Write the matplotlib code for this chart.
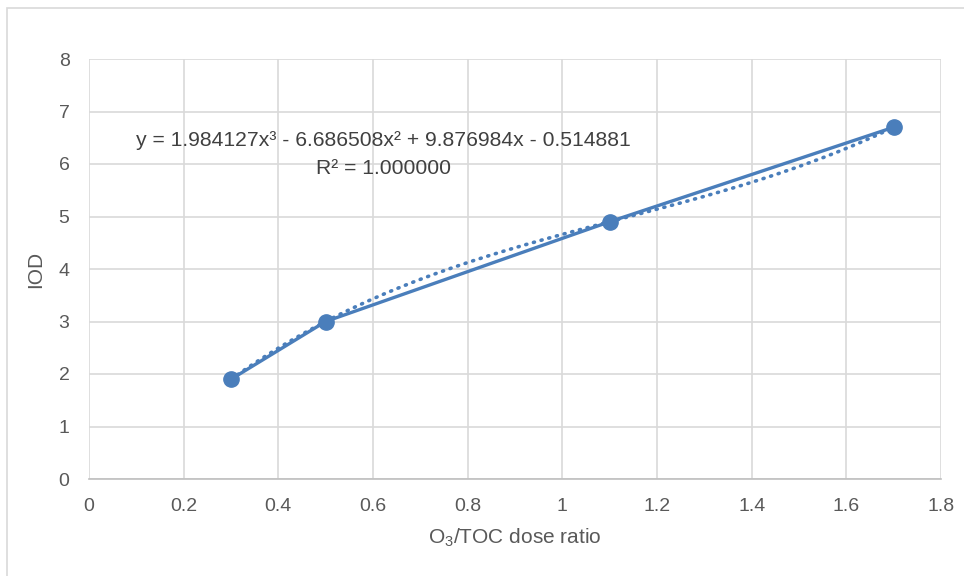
import numpy as np
import matplotlib
matplotlib.use("Agg")
import matplotlib.pyplot as plt
from matplotlib.patches import Rectangle

# Data
dose_ratio = [0.3, 0.5, 1.1, 1.7]
iod = [1.9, 3.0, 4.9, 6.7]
x_ticks = [0, 0.2, 0.4, 0.6, 0.8, 1, 1.2, 1.4, 1.6, 1.8]
x_tick_labels = ["0", "0.2", "0.4", "0.6", "0.8", "1", "1.2", "1.4", "1.6", "1.8"]
y_ticks = [0, 1, 2, 3, 4, 5, 6, 7, 8]
eq_line1 = "y = 1.984127x³ - 6.686508x² + 9.876984x - 0.514881"
eq_line2 = "R² = 1.000000"

plt.rcParams['font.family'] = ['Liberation Sans', 'DejaVu Sans']
plt.rcParams['mathtext.fontset'] = 'custom'
plt.rcParams['mathtext.rm'] = 'Liberation Sans'

blue = '#4a7ebb'
grey_txt = '#595959'
fig = plt.figure(figsize=(9.64, 5.76), dpi=100)
ax = fig.add_axes([89/964, 1 - 479/576, (941 - 89)/964, (479 - 59)/576])

# cubic trendline from the data
coef = np.polyfit(dose_ratio, iod, 3)
xs = np.linspace(min(dose_ratio), max(dose_ratio), 200)
ax.plot(xs, np.polyval(coef, xs), color=blue, lw=2.6, linestyle=(0, (0.3, 1.9)),
        dash_capstyle='round', zorder=3)
ax.plot(dose_ratio, iod, color=blue, lw=2.4, marker='o', markersize=11, zorder=4)

ax.set_xlim(0, 1.8)
ax.set_ylim(0, 8)
ax.set_xticks(x_ticks)
ax.set_xticklabels(x_tick_labels)
ax.set_yticks(y_ticks)
ax.grid(True, color='#d9d9d9', lw=1.2)
ax.set_axisbelow(True)
for s in ['top', 'right', 'left']:
    ax.spines[s].set_visible(False)
ax.spines['bottom'].set_color('#bfbfbf')
ax.spines['bottom'].set_linewidth(1.2)
ax.tick_params(axis='both', length=0, labelsize=14, colors=grey_txt)
ax.tick_params(axis='x', pad=14)
ax.tick_params(axis='y', pad=14)

ax.set_xlabel("O$_3$/TOC dose ratio", fontsize=15, color=grey_txt, labelpad=8)
ax.set_ylabel("IOD", fontsize=15, color=grey_txt, labelpad=10)

ax.text(0.622, 6.45, eq_line1, ha='center', va='center', fontsize=15.2, color='#404040')
ax.text(0.622, 5.92, eq_line2, ha='center', va='center', fontsize=15.2, color='#404040')

fig.patches.append(Rectangle((7/964, -0.02), 1.0, 1 - 8/576 + 0.02, transform=fig.transFigure,
                             fill=False, edgecolor='#d9d9d9', lw=1.2))

fig.savefig("out.png", dpi=100)
